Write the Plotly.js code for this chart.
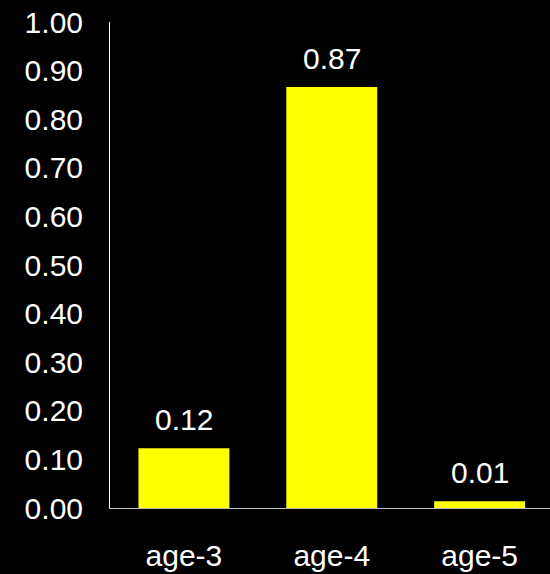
<!DOCTYPE html>
<html>
<head>
<meta charset="utf-8">
<script src="https://cdn.plot.ly/plotly-3.0.1.min.js"></script>
<style>html,body{margin:0;padding:0;background:#000;}#chart{width:550px;height:574px;}</style>
</head>
<body>
<div id="chart"></div>
<script>
const categories = ["age-3", "age-4", "age-5"];
const values = [0.123, 0.866, 0.014];
const yTickValues = [0, 0.1, 0.2, 0.3, 0.4, 0.5, 0.6, 0.7, 0.8, 0.9, 1.0];

const FONT = "Liberation Sans, Arial, sans-serif";

const trace = {
  type: "bar",
  x: categories,
  y: values,
  marker: { color: "#ffff00", line: { width: 0 } },
  hoverinfo: "none"
};

const annotations = categories.map((c, i) => ({
  x: c,
  y: values[i],
  xref: "x",
  yref: "y",
  text: values[i].toFixed(2),
  showarrow: false,
  yanchor: "bottom",
  yshift: 10,
  font: { family: FONT, size: 30, color: "#ffffff" }
}));

const layout = {
  width: 550,
  height: 574,
  paper_bgcolor: "#000000",
  plot_bgcolor: "#000000",
  margin: { l: 109.5, r: 0, t: 22, b: 66, pad: 0 },
  bargap: 0.385,
  showlegend: false,
  font: { family: FONT, size: 30, color: "#ffffff" },
  xaxis: {
    type: "category",
    range: [-0.5, 2.476],
    showgrid: false,
    zeroline: false,
    showline: true,
    linecolor: "#bfbfbf",
    linewidth: 1,
    ticks: "",
    ticklabelstandoff: 21,
    tickfont: { family: FONT, size: 30, color: "#ffffff" }
  },
  yaxis: {
    range: [0, 1],
    tickvals: yTickValues,
    tickformat: ".2f",
    showgrid: false,
    zeroline: false,
    showline: true,
    linecolor: "#ffffff",
    linewidth: 1,
    ticks: "",
    ticklabelstandoff: 20,
    tickfont: { family: FONT, size: 30, color: "#ffffff" }
  },
  annotations: annotations
};

Plotly.newPlot("chart", [trace], layout, { staticPlot: true, displayModeBar: false });
</script>
</body>
</html>
